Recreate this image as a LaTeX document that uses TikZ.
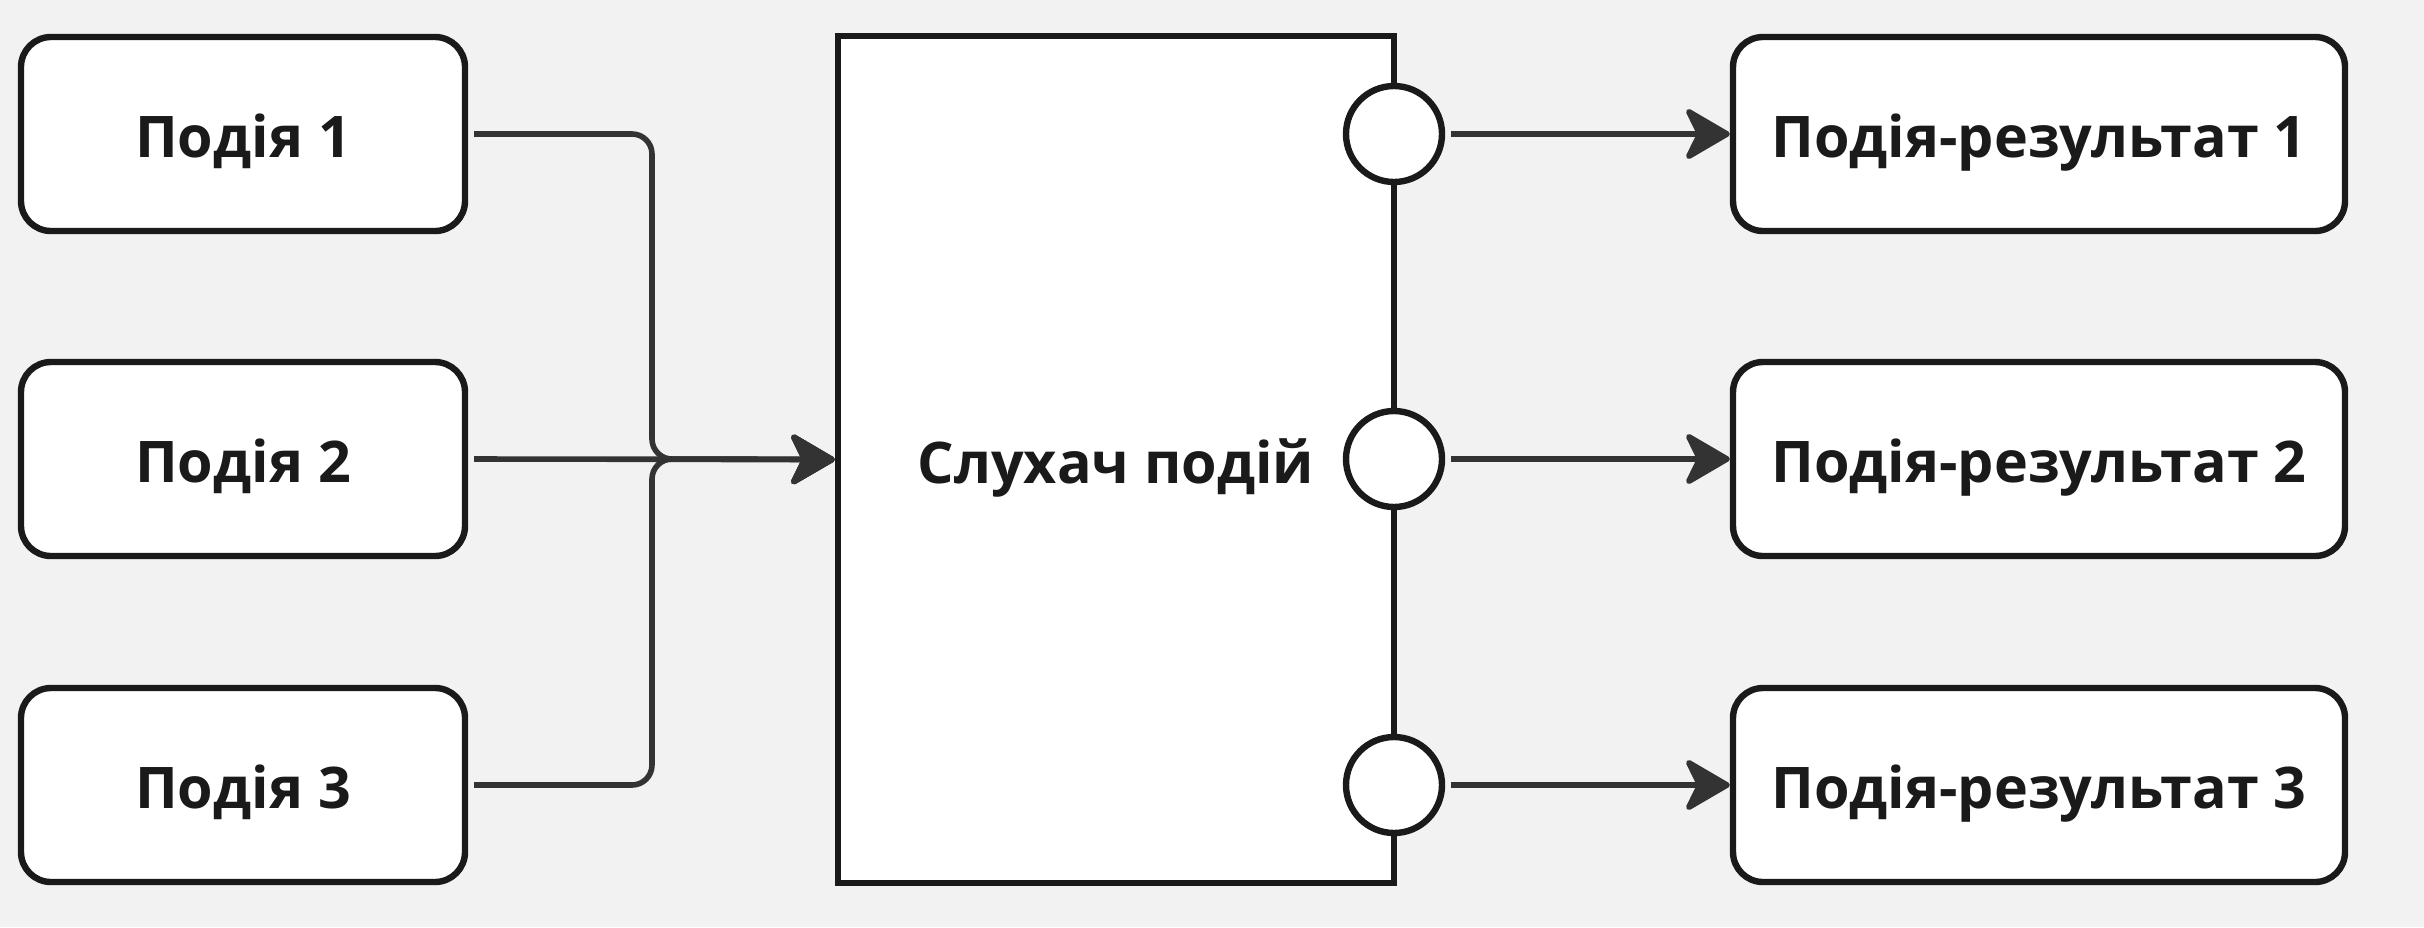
\documentclass[tikz,border=0pt]{standalone}
\usepackage{fontspec}
\setmainfont{Open Sans}
\usetikzlibrary{arrows.meta}
\definecolor{bgc}{HTML}{F2F2F2}
\definecolor{edge}{HTML}{1A1A1A}
\definecolor{wire}{HTML}{333333}
\begin{document}
\begin{tikzpicture}[x=0.5pt,y=-0.5pt,
  lbl/.style={font=\bfseries\fontsize{28.7}{34}\selectfont, text=edge,
    text height=23.5pt, text depth=0pt},
  event/.style={lbl, draw=edge, fill=white, line width=3.2pt, rounded corners=15pt,
    minimum width=222pt, minimum height=97pt, inner sep=0pt},
  result/.style={event, minimum width=306pt},
  listener/.style={lbl, draw=edge, fill=white, line width=3.2pt,
    minimum width=278pt, minimum height=423.5pt, inner sep=0pt},
  port/.style={circle, draw=edge, fill=white, line width=3.2pt, minimum size=48pt, inner sep=0pt},
  conn/.style={draw=wire, line width=2.8pt, shorten <=3pt,
    -{Stealth[length=25pt,width=29pt,inset=7pt,round]}},
]
\fill[bgc] (0,0) rectangle (2424,927);
\useasboundingbox (0,0) rectangle (2424,927);

% source events
\node[event] (e1) at (243,134) {Подія 1};
\node[event] (e2) at (243,459) {Подія 2};
\node[event] (e3) at (243,785) {Подія 3};

% listener with its output ports
\node[listener] (L) at (1116,459.5) {Слухач подій};
\node[port] (p1) at (1394,134) {};
\node[port] (p2) at (1394,459) {};
\node[port] (p3) at (1394,785) {};

% resulting events
\node[result] (r1) at (2039,134) {Подія-результат 1};
\node[result] (r2) at (2039,459) {Подія-результат 2};
\node[result] (r3) at (2039,785) {Подія-результат 3};

% merge point of incoming events
\coordinate (j) at (652,459);
\draw[conn, rounded corners=10pt] (e1.east) -| (j) -- (L.west);
\draw[conn, rounded corners=10pt] (e3.east) -| (j) -- (L.west);
\draw[conn] (e2.east) -- (L.west);

% outgoing connectors
\draw[conn] (p1.east) -- (r1.west);
\draw[conn] (p2.east) -- (r2.west);
\draw[conn] (p3.east) -- (r3.west);
\end{tikzpicture}
\end{document}
